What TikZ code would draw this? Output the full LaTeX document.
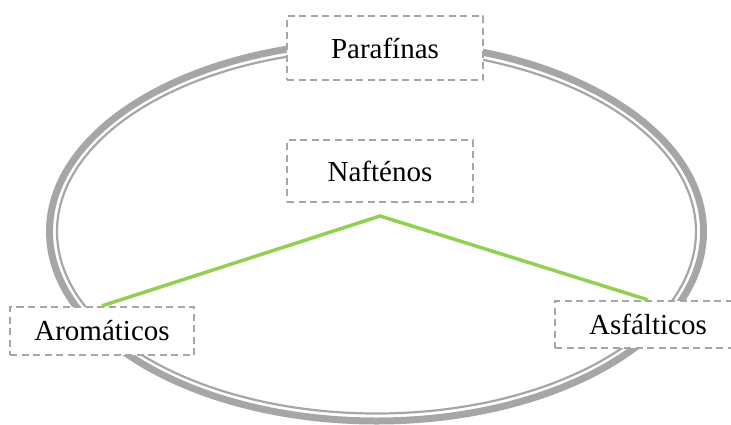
\documentclass[tikz,border=0pt]{standalone}
\usepackage{fontspec}
\setmainfont{Liberation Serif}
\definecolor{ringgray}{HTML}{A6A6A6}
\definecolor{boxgray}{HTML}{A6A6A6}
\definecolor{linkgreen}{HTML}{92D050}
\begin{document}
\begin{tikzpicture}[x=1pt,y=-1pt,
  lbl/.style={draw=boxgray, line width=2.3pt, dash pattern=on 7pt off 4.5pt,
    fill=white, rectangle, inner sep=0pt, font=\fontsize{29}{31}\selectfont},
  link/.style={draw=linkgreen, line width=3.5pt}]
\useasboundingbox (0,0) rectangle (731,424);
% ring
\draw[ringgray, line width=7pt] (376.5,231.5) ellipse [x radius=327, y radius=189.5];
\draw[ringgray, line width=2.2pt] (376.5,231.5) ellipse [x radius=319.5, y radius=182];
% boxes
\node[lbl, minimum width=196pt, minimum height=64pt] (par) at (385,48) {Parafínas};
\node[lbl, minimum width=186pt, minimum height=62pt] (naf) at (380,171) {Nafténos};
\node[lbl, minimum width=184pt, minimum height=48pt] (aro) at (102,331) {Aromáticos};
\node[lbl, minimum width=186pt, minimum height=47pt] (asf) at (648,324.5) {Asfálticos};
% links
\coordinate (apex) at (380,216);
\draw[link] (aro.north) -- (apex) -- (asf.north);
\end{tikzpicture}
\end{document}
